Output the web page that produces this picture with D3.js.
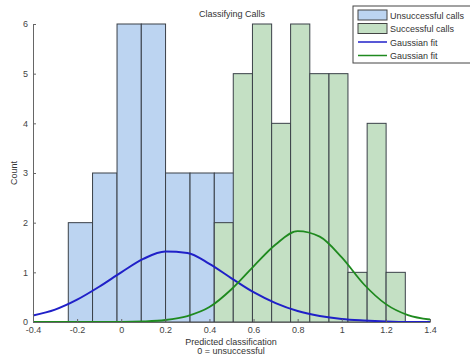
<!DOCTYPE html>
<html>
<head>
<meta charset="utf-8">
<script src="https://cdn.jsdelivr.net/npm/d3@7"></script>
<style>
  body { margin: 0; background: #fff; }
  svg { display: block; font-family: "Liberation Sans", Arial, sans-serif; }
</style>
</head>
<body>
<div id="app"></div>
<script>
const width = 470;
const height = 356;
const margin = { top: 24, right: 40, bottom: 34, left: 33 };

// histogram bin edges and counts
const unsuccessfulEdges = [-0.24, -0.13, -0.019, 0.091, 0.201, 0.312, 0.422, 0.532];
const unsuccessfulCounts = [2, 3, 6, 6, 3, 3, 3];
const successfulEdges = [0.422, 0.508, 0.595, 0.682, 0.768, 0.855, 0.942, 1.028, 1.115, 1.201, 1.288];
const successfulCounts = [2, 5, 6, 4, 6, 5, 5, 1, 4, 1];

// gaussian fit curves
const fitX = [-0.4, -0.3, -0.2, -0.1, 0, 0.1, 0.2, 0.3, 0.4, 0.5, 0.6, 0.7, 0.8, 0.9, 1.0, 1.1, 1.2, 1.3, 1.4];
const unsuccessfulFit = [0.13, 0.25, 0.45, 0.71, 1.0, 1.27, 1.42, 1.39, 1.17, 0.88, 0.6, 0.38, 0.22, 0.12, 0.06, 0.03, 0.01, 0.0, 0.0];
const successfulFit = [0.0, 0.0, 0.0, 0.0, 0.0, 0.01, 0.04, 0.12, 0.3, 0.66, 1.12, 1.56, 1.83, 1.72, 1.3, 0.76, 0.36, 0.14, 0.05];

const xTicks = [-0.4, -0.2, 0, 0.2, 0.4, 0.6, 0.8, 1, 1.2, 1.4];
const yTicks = [0, 1, 2, 3, 4, 5, 6];

const legendItems = [
  { label: "Unsuccessful calls", type: "box", fill: "#bcd4f1" },
  { label: "Successful calls", type: "box", fill: "#c4e0c4" },
  { label: "Gaussian fit", type: "line", stroke: "#2020c8" },
  { label: "Gaussian fit", type: "line", stroke: "#1f8a1f" },
];

const x = d3.scaleLinear().domain([-0.4, 1.4]).range([margin.left, width - margin.right]);
const y = d3.scaleLinear().domain([0, 6]).range([height - margin.bottom, margin.top]);

const svg = d3.select("#app").append("svg").attr("width", width).attr("height", height);

function drawBars(edges, counts, fill, cls) {
  svg.append("g")
    .attr("class", cls)
    .selectAll("rect")
    .data(counts)
    .join("rect")
    .attr("x", (d, i) => x(edges[i]))
    .attr("y", (d) => y(d))
    .attr("width", (d, i) => x(edges[i + 1]) - x(edges[i]))
    .attr("height", (d) => y(0) - y(d))
    .attr("fill", fill)
    .attr("stroke", "#3a4048")
    .attr("stroke-width", 1);
}

drawBars(unsuccessfulEdges, unsuccessfulCounts, "#bcd4f1", "unsuccessful");
drawBars(successfulEdges, successfulCounts, "#c4e0c4", "successful");

const line = d3.line()
  .x((d) => x(d[0]))
  .y((d) => y(d[1]))
  .curve(d3.curveMonotoneX);

svg.append("path")
  .datum(fitX.map((v, i) => [v, unsuccessfulFit[i]]))
  .attr("d", line)
  .attr("fill", "none")
  .attr("stroke", "#2020c8")
  .attr("stroke-width", 2);

svg.append("path")
  .datum(fitX.map((v, i) => [v, successfulFit[i]]))
  .attr("d", line)
  .attr("fill", "none")
  .attr("stroke", "#1f8a1f")
  .attr("stroke-width", 1.8);

// axes (MATLAB style: ticks inside, plain hyphen minus)
const xAxis = svg.append("g")
  .attr("transform", `translate(0, ${y(0)})`)
  .call(d3.axisBottom(x).tickValues(xTicks).tickSizeInner(-3).tickSizeOuter(0).tickPadding(5)
    .tickFormat((d) => String(d)));
const yAxis = svg.append("g")
  .attr("transform", `translate(${x(-0.4)}, 0)`)
  .call(d3.axisLeft(y).tickValues(yTicks).tickSizeInner(-3).tickSizeOuter(0).tickPadding(5)
    .tickFormat(d3.format("d")));

[xAxis, yAxis].forEach((g) => {
  g.select(".domain").attr("stroke", "#666");
  g.selectAll(".tick line").attr("stroke", "#666");
  g.selectAll(".tick text").attr("fill", "#444").style("font-size", "9px");
});

svg.append("text")
  .attr("x", 232)
  .attr("y", 17)
  .attr("text-anchor", "middle")
  .style("font-size", "9px")
  .attr("fill", "#333")
  .text("Classifying Calls");

svg.append("text")
  .attr("x", 231)
  .attr("y", 345)
  .attr("text-anchor", "middle")
  .style("font-size", "9px")
  .attr("fill", "#333")
  .text("Predicted classification");

svg.append("text")
  .attr("x", 231)
  .attr("y", 354)
  .attr("text-anchor", "middle")
  .style("font-size", "9px")
  .attr("fill", "#333")
  .text("0 = unsuccessful");

svg.append("text")
  .attr("transform", `translate(17, 173) rotate(-90)`)
  .attr("text-anchor", "middle")
  .style("font-size", "9px")
  .attr("fill", "#333")
  .text("Count");

// legend
const legend = svg.append("g").attr("transform", "translate(353, 6)");
legend.append("rect")
  .attr("width", 125)
  .attr("height", 57)
  .attr("fill", "#fff")
  .attr("stroke", "#444")
  .attr("stroke-width", 1);

legendItems.forEach((item, i) => {
  const row = legend.append("g").attr("transform", `translate(0, ${9 + i * 13.5})`);
  if (item.type === "box") {
    row.append("rect")
      .attr("x", 5)
      .attr("y", -5)
      .attr("width", 29)
      .attr("height", 10)
      .attr("fill", item.fill)
      .attr("stroke", "#444");
  } else {
    row.append("line")
      .attr("x1", 5)
      .attr("x2", 34)
      .attr("stroke", item.stroke)
      .attr("stroke-width", 1.5);
  }
  row.append("text")
    .attr("x", 37)
    .attr("y", 3.5)
    .style("font-size", "9px")
    .attr("fill", "#333")
    .text(item.label);
});
</script>
</body>
</html>
